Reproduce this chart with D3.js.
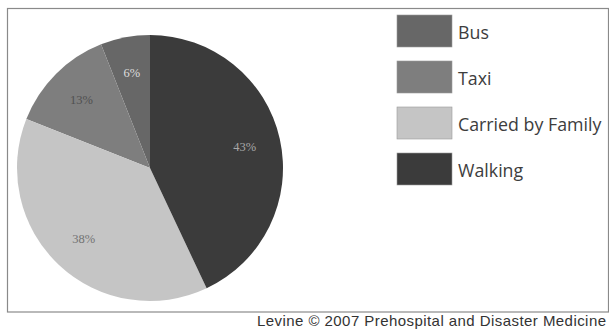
<!DOCTYPE html>
<html>
<head>
<meta charset="utf-8">
<script src="https://cdn.jsdelivr.net/npm/d3@7/dist/d3.min.js"></script>
<style>
  html, body { margin: 0; padding: 0; background: #fff; overflow: hidden; }
  svg { display: block; }
</style>
</head>
<body>
<svg id="chart" width="609" height="332"></svg>
<script>
// Mode of arrival, share of patients (%)
const categories = ["Bus", "Taxi", "Carried by Family", "Walking"];
const values = [6, 13, 38, 43];
const sliceColors = ["#676767", "#7e7e7e", "#c5c5c5", "#3b3b3b"];
const labelColors = ["#dedede", "#505050", "#737373", "#a8a8a8"];
const footer = "Levine \u00a9 2007 Prehospital and Disaster Medicine";

const svg = d3.select("#chart");

// frame
svg.append("rect")
  .attr("x", 7.5).attr("y", 8.5)
  .attr("width", 601).attr("height", 303.5)
  .attr("fill", "none")
  .attr("stroke", "#8a8a8a")
  .attr("stroke-width", 1.2);

const cx = 150, cy = 168, R = 133;
const data = categories.map((c, i) => ({ name: c, value: values[i], i }));

// slices run counter-clockwise from 12 o'clock in legend order
const pie = d3.pie().sort(null).value(d => d.value)
  .startAngle(0).endAngle(-2 * Math.PI);
const arcs = pie(data);
const arc = d3.arc().innerRadius(0).outerRadius(R);
const labelArc = d3.arc().innerRadius(97).outerRadius(97);

const color = d3.scaleOrdinal().domain(categories).range(sliceColors);
const labelColor = d3.scaleOrdinal().domain(categories).range(labelColors);

const g = svg.append("g").attr("transform", `translate(${cx},${cy})`);
g.selectAll("path.slice").data(arcs).join("path")
  .attr("class", "slice")
  .attr("d", arc)
  .attr("fill", d => color(d.data.name));

g.selectAll("text.pct").data(arcs).join("text")
  .attr("class", "pct")
  .attr("transform", d => `translate(${labelArc.centroid(d)})`)
  .attr("text-anchor", "middle")
  .attr("dy", "0.35em")
  .attr("font-family", "'Liberation Serif', serif")
  .attr("font-size", 12.5)
  .attr("fill", d => labelColor(d.data.name))
  .text(d => d.data.value + "%");

// legend
const legY = d3.scaleBand().domain(categories).range([15, 199]).paddingInner(0);
const leg = svg.append("g");
const items = leg.selectAll("g").data(categories).join("g")
  .attr("transform", d => `translate(397,${legY(d)})`);
items.append("rect")
  .attr("width", 55).attr("height", 32)
  .attr("fill", d => color(d))
  .attr("stroke", "#9a9a9a").attr("stroke-width", 0.6);
items.append("text")
  .attr("x", 61).attr("y", 24)
  .attr("font-family", "'Open Sans', sans-serif")
  .attr("font-size", 17.8)
  .attr("fill", "#3d3d3d")
  .text(d => d);

// footer credit
svg.append("text")
  .attr("x", 257).attr("y", 326)
  .attr("font-family", "'Liberation Sans', Arial, sans-serif")
  .attr("font-size", 15)
  .attr("textLength", 349)
  .attr("lengthAdjust", "spacing")
  .attr("fill", "#333")
  .text(footer);
</script>
</body>
</html>
